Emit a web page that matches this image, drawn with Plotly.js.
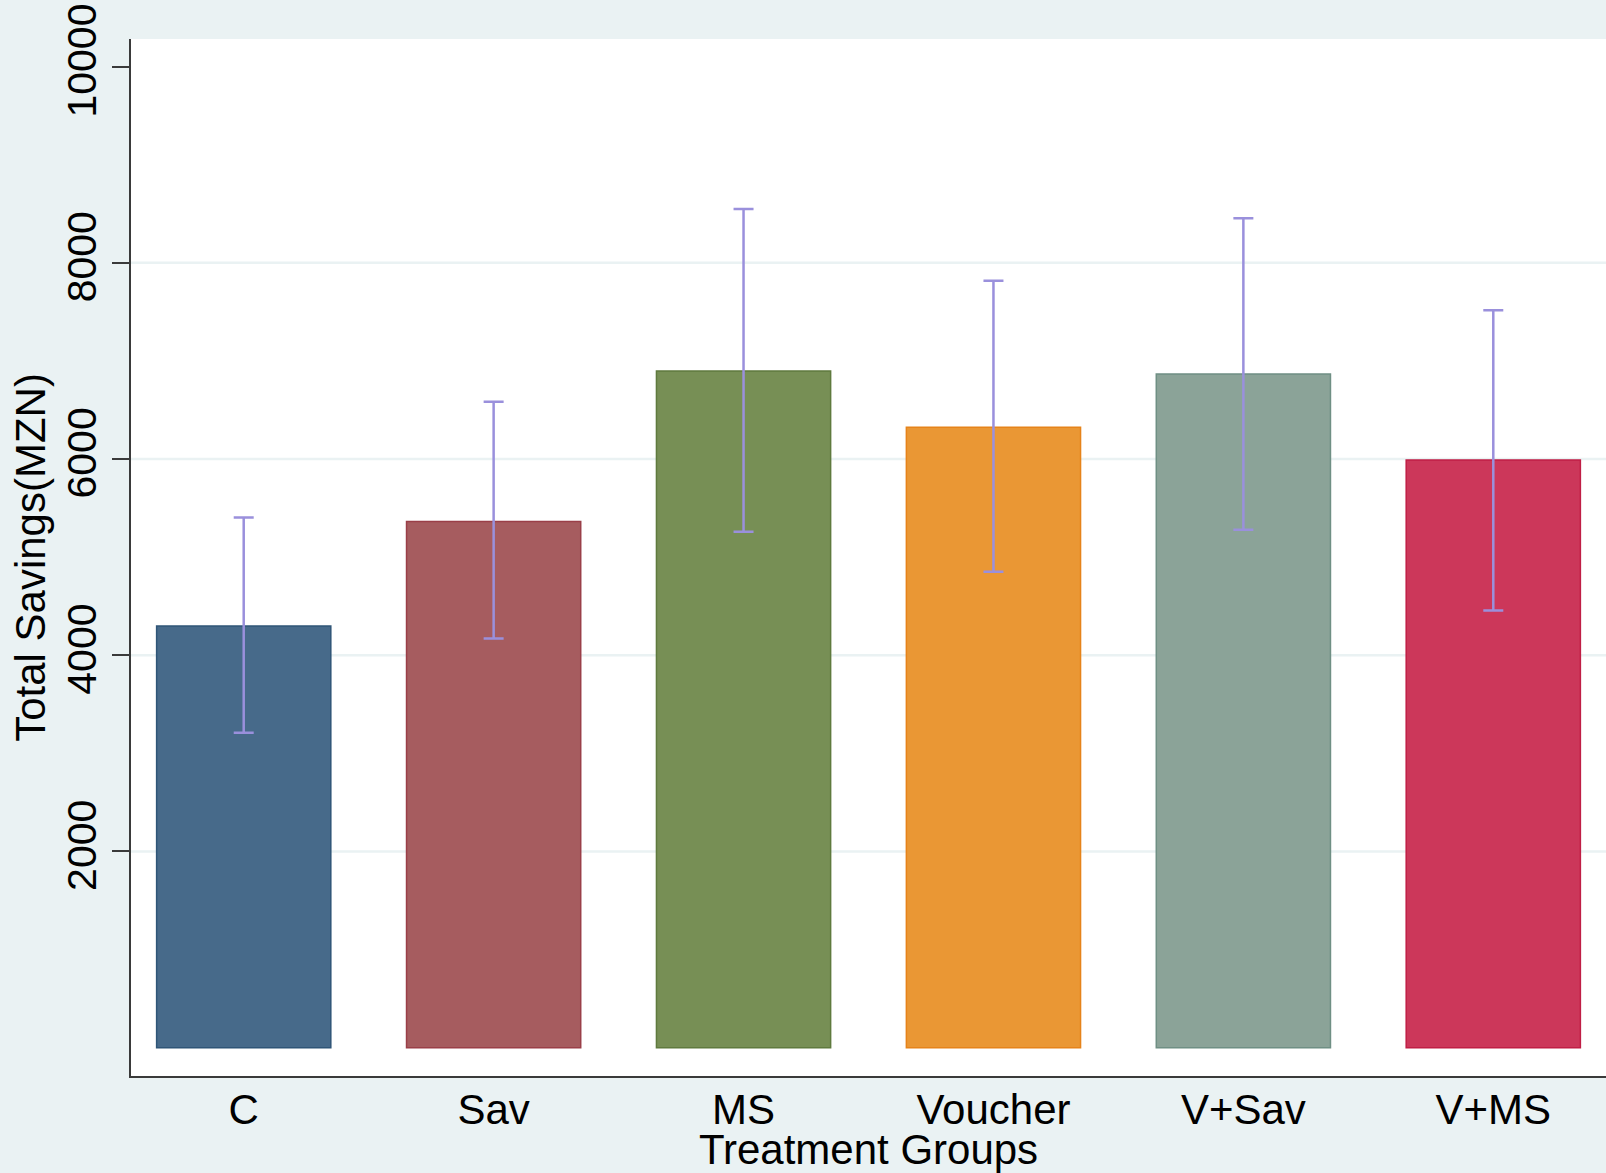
<!DOCTYPE html>
<html>
<head>
<meta charset="utf-8">
<script src="https://cdn.plot.ly/plotly-3.0.1.min.js"></script>
<style>
  html, body { margin: 0; padding: 0; background: #EAF2F3; }
  #chart { width: 1606px; height: 1173px; }
</style>
</head>
<body>
<div id="chart"></div>
<script>
// Mean total savings by treatment group, with 95% confidence bounds
const groups = ["C", "Sav", "MS", "Voucher", "V+Sav", "V+MS"];
const meanSavings = [4298, 5363, 6898, 6324, 6867, 5990];
const ciUpper = [5405, 6585, 8548, 7817, 8454, 7517];
const ciLower = [3211, 4172, 5258, 4851, 5279, 4456];

const barColors = ["#476A8A", "#A65C5F", "#778F55", "#EA9734", "#8BA398", "#CC375A"];
const barEdges = ["#2F5577", "#9A3F48", "#5F7A3E", "#E6831A", "#6F8F84", "#C01E45"];

const yTicks = [2000, 4000, 6000, 8000, 10000];
const gridLevels = [2000, 4000, 6000, 8000];

const xPos = groups.map((_, i) => i);

const trace = {
  type: "bar",
  x: xPos,
  y: meanSavings,
  width: 0.697,
  marker: { color: barColors, line: { color: barEdges, width: 1.5 } },
  error_y: {
    type: "data",
    symmetric: false,
    array: ciUpper.map((u, i) => u - meanSavings[i]),
    arrayminus: meanSavings.map((m, i) => m - ciLower[i]),
    color: "#9A90DC",
    thickness: 2.5,
    width: 10
  },
  hoverinfo: "skip"
};

const font = "'Liberation Sans', Arial, sans-serif";

const layout = {
  width: 1606,
  height: 1173,
  paper_bgcolor: "#EAF2F3",
  plot_bgcolor: "#FFFFFF",
  margin: { l: 131, r: 0, t: 39, b: 97, pad: 0 },
  showlegend: false,
  bargap: 0,
  xaxis: {
    range: [-0.451, 5.451],
    tickmode: "array",
    tickvals: xPos,
    ticktext: groups,
    ticks: "",
    showgrid: false,
    zeroline: false,
    showline: true,
    linecolor: "#3A3A3A",
    linewidth: 2,
    tickfont: { family: font, size: 42, color: "#000000" },
    ticklabelstandoff: -4,
    title: { text: "Treatment Groups", font: { family: font, size: 42, color: "#000000" }, standoff: 10 },
    fixedrange: true
  },
  yaxis: {
    range: [-289, 10282],
    tickmode: "array",
    tickvals: yTicks,
    ticktext: yTicks.map(String),
    tickangle: -90,
    ticks: "outside",
    ticklen: 17,
    tickwidth: 2,
    tickcolor: "#3A3A3A",
    showgrid: false,
    zeroline: false,
    showline: true,
    linecolor: "#3A3A3A",
    linewidth: 2,
    tickfont: { family: font, size: 41, color: "#000000" },
    title: { text: "Total Savings(MZN)", font: { family: font, size: 42, color: "#000000" }, standoff: 0 },
    fixedrange: true
  },
  shapes: gridLevels.map(v => ({
    type: "line",
    xref: "paper",
    yref: "y",
    x0: 0, x1: 1,
    y0: v, y1: v,
    layer: "below",
    line: { color: "#EAF2F3", width: 2.5 }
  }))
};

Plotly.newPlot("chart", [trace], layout, { displayModeBar: false, staticPlot: true });
</script>
</body>
</html>
